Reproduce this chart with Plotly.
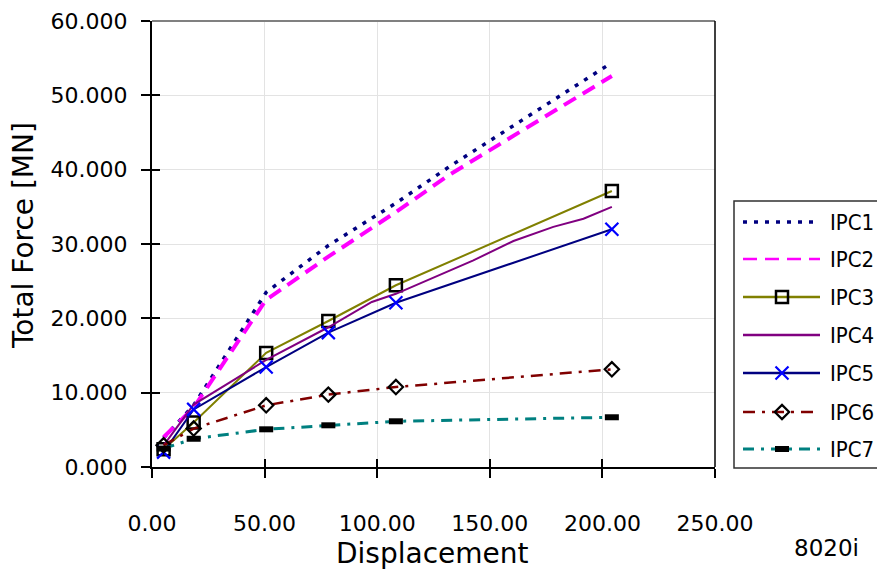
import plotly.graph_objects as go

# ---------------- data ----------------
series_names = ["IPC1", "IPC2", "IPC3", "IPC4", "IPC5", "IPC6", "IPC7"]
disp = [5.15, 18.5, 50.7, 78.3, 108.3, 204.2]
disp_ipc12 = [5.15, 18.5, 50.7, 78.3, 108.3, 132.0, 164.0, 204.2]
disp_ipc4 = [5.15, 18.5, 36.2, 50.7, 78.3, 97.6, 108.3, 142.7, 160.5, 178.2, 191.6, 204.2]
ipc1 = [3.9, 8.3, 23.5, 29.8, 35.5, 40.4, 46.6, 54.4]
ipc2 = [4.0, 8.0, 22.5, 28.3, 34.3, 39.3, 45.2, 52.6]
ipc3 = [2.4, 6.0, 15.35, 19.64, 24.45, 37.13]
ipc4 = [2.9, 8.4, 11.7, 14.4, 18.8, 22.2, 23.3, 27.8, 30.4, 32.3, 33.4, 35.0]
ipc5 = [2.0, 7.75, 13.45, 18.08, 22.1, 31.98]
ipc6 = [2.92, 5.17, 8.3, 9.74, 10.76, 13.14]
ipc7 = [2.48, 3.8, 5.07, 5.61, 6.15, 6.69]

x_ticks = [0, 50, 100, 150, 200, 250]
x_tick_text = ["0.00", "50.00", "100.00", "150.00", "200.00", "250.00"]
y_ticks = [0, 10, 20, 30, 40, 50, 60]
y_tick_text = ["0.000", "10.000", "20.000", "30.000", "40.000", "50.000", "60.000"]

# ---------------- styles ----------------
styles = {
    "IPC1": dict(line=dict(color="#000080", width=3.5, dash="4px,7px"), mode="lines", marker=None),
    "IPC2": dict(line=dict(color="#FF00FF", width=4, dash="14px,8px"), mode="lines", marker=None),
    "IPC3": dict(line=dict(color="#808000", width=2), mode="lines+markers",
                 marker=dict(symbol="square-open", size=12, color="black", line=dict(color="black", width=2.5))),
    "IPC4": dict(line=dict(color="#800080", width=2), mode="lines", marker=None),
    "IPC5": dict(line=dict(color="#000080", width=2), mode="lines+markers",
                 marker=dict(symbol="x-thin", size=13, color="#0000FF", line=dict(color="#0000FF", width=2.2))),
    "IPC6": dict(line=dict(color="#800000", width=2.5, dash="12px,7px,3px,7px"), mode="lines+markers",
                 marker=dict(symbol="diamond-open", size=11, color="black", line=dict(color="black", width=2.2))),
    "IPC7": dict(line=dict(color="#008080", width=3, dash="11px,7px,3px,7px"), mode="lines+markers",
                 marker=dict(symbol="line-ew", size=10, color="black", line=dict(color="black", width=6))),
}
xs = {"IPC1": disp_ipc12, "IPC2": disp_ipc12, "IPC3": disp, "IPC4": disp_ipc4,
      "IPC5": disp, "IPC6": disp, "IPC7": disp}
ys = {"IPC1": ipc1, "IPC2": ipc2, "IPC3": ipc3, "IPC4": ipc4,
      "IPC5": ipc5, "IPC6": ipc6, "IPC7": ipc7}

W, H = 877, 573
ML, MR, MT, MB = 152, 0, 21, 106
PW = W - ML - MR
PH = H - MT - MB
plot_right_px = 715
xdom_end = (plot_right_px - ML) / PW

def px_x(px):
    return (px - ML) / PW

def px_y(py):
    return (H - MB - py) / PH

fig = go.Figure()

for name in series_names:
    st = styles[name]
    kw = dict(x=xs[name], y=ys[name], name=name, mode=st["mode"], line=st["line"], showlegend=False)
    if st["marker"] is not None:
        kw["marker"] = st["marker"]
    fig.add_trace(go.Scatter(**kw))

# invisible trace to activate the overlay axes (inside half of crossing ticks)
fig.add_trace(go.Scatter(x=[0], y=[0], xaxis="x2", yaxis="y2", mode="markers",
                         marker=dict(opacity=0), showlegend=False, hoverinfo="skip"))

# ---------------- custom legend (x3/y3 in pixel units) ----------------
leg_rows = [222, 259, 297, 335, 373, 412, 449]
leg_x0, leg_x1 = 743, 820
leg_mid = 782
leg_font = dict(family="Liberation Sans Narrow, Arial Narrow, DejaVu Sans Condensed, Liberation Sans", size=22, color="black")
annotations = []
for name, yrow in zip(series_names, leg_rows):
    st = styles[name]
    lw = dict(st["line"])
    if name in ("IPC2", "IPC3", "IPC4", "IPC5"):
        lw["width"] = 2.5
    fig.add_trace(go.Scatter(x=[leg_x0, leg_x1], y=[yrow, yrow], xaxis="x3", yaxis="y3",
                             mode="lines", line=lw, showlegend=False, hoverinfo="skip"))
    if st["marker"] is not None:
        fig.add_trace(go.Scatter(x=[leg_mid], y=[yrow], xaxis="x3", yaxis="y3", mode="markers",
                                 marker=st["marker"], showlegend=False, hoverinfo="skip"))
    annotations.append(dict(x=828, y=yrow, xref="x3", yref="y3", text=name, showarrow=False,
                            xanchor="left", yanchor="middle", font=leg_font))

axis_font = dict(family="DejaVu Sans", size=22, color="black")
title_font = dict(family="DejaVu Sans", size=28, color="black")

annotations.append(dict(x=px_x(24), y=px_y(236), xref="paper", yref="paper", text="Total Force [MN]",
                        textangle=-90, showarrow=False, font=title_font, xanchor="center", yanchor="middle"))
annotations.append(dict(x=px_x(432.5), y=px_y(553), xref="paper", yref="paper", text="Displacement",
                        showarrow=False, font=title_font, xanchor="center", yanchor="middle"))
annotations.append(dict(x=px_x(826), y=px_y(548), xref="paper", yref="paper", text="8020i",
                        showarrow=False, font=dict(family="DejaVu Sans", size=23, color="black"),
                        xanchor="center", yanchor="middle"))

shapes = [
    dict(type="line", xref="paper", yref="paper", x0=0, x1=xdom_end, y0=1, y1=1,
         line=dict(color="#808080", width=2)),
    dict(type="line", xref="paper", yref="paper", x0=xdom_end, x1=xdom_end, y0=0, y1=1,
         line=dict(color="black", width=1.5)),
    dict(type="rect", xref="paper", yref="paper", x0=px_x(734), x1=1.05, y0=px_y(468), y1=px_y(201),
         line=dict(color="#303030", width=1.5), fillcolor="rgba(0,0,0,0)"),
]

fig.update_layout(
    template="none",
    width=W, height=H, autosize=False,
    margin=dict(l=ML, r=MR, t=MT, b=MB, pad=0, autoexpand=False),
    paper_bgcolor="white", plot_bgcolor="white",
    showlegend=False,
    xaxis=dict(domain=[0, xdom_end], range=[0, 250], tickvals=x_ticks, ticktext=x_tick_text,
               showgrid=True, gridcolor="#e3e3e3", gridwidth=1, zeroline=False,
               showline=True, linecolor="black", linewidth=2, automargin=False,
               ticks="outside", ticklen=9, tickwidth=1.5, tickcolor="black",
               tickfont=axis_font, ticklabelstandoff=27, anchor="y"),
    yaxis=dict(domain=[0, 1], range=[0, 60], tickvals=y_ticks, ticktext=y_tick_text,
               showgrid=True, gridcolor="#e3e3e3", gridwidth=1, zeroline=False,
               showline=True, linecolor="black", linewidth=2, automargin=False,
               ticks="outside", ticklen=9, tickwidth=1.5, tickcolor="black",
               tickfont=axis_font, ticklabelstandoff=9, anchor="x"),
    xaxis2=dict(overlaying="x", range=[0, 250], tickvals=x_ticks, showticklabels=False,
                ticks="inside", ticklen=8, tickwidth=1.5, tickcolor="black", automargin=False,
                showgrid=False, zeroline=False, showline=False, anchor="y", side="bottom"),
    yaxis2=dict(overlaying="y", range=[0, 60], tickvals=y_ticks, showticklabels=False,
                ticks="inside", ticklen=8, tickwidth=1.5, tickcolor="black", automargin=False,
                showgrid=False, zeroline=False, showline=False, anchor="x", side="left"),
    xaxis3=dict(domain=[px_x(734), 1], range=[734, 877], visible=False, anchor="y3", automargin=False),
    yaxis3=dict(domain=[0, 1], range=[H - MB, MT], visible=False, anchor="x3", automargin=False),
    annotations=annotations,
    shapes=shapes,
)

fig.write_html("out.html")
